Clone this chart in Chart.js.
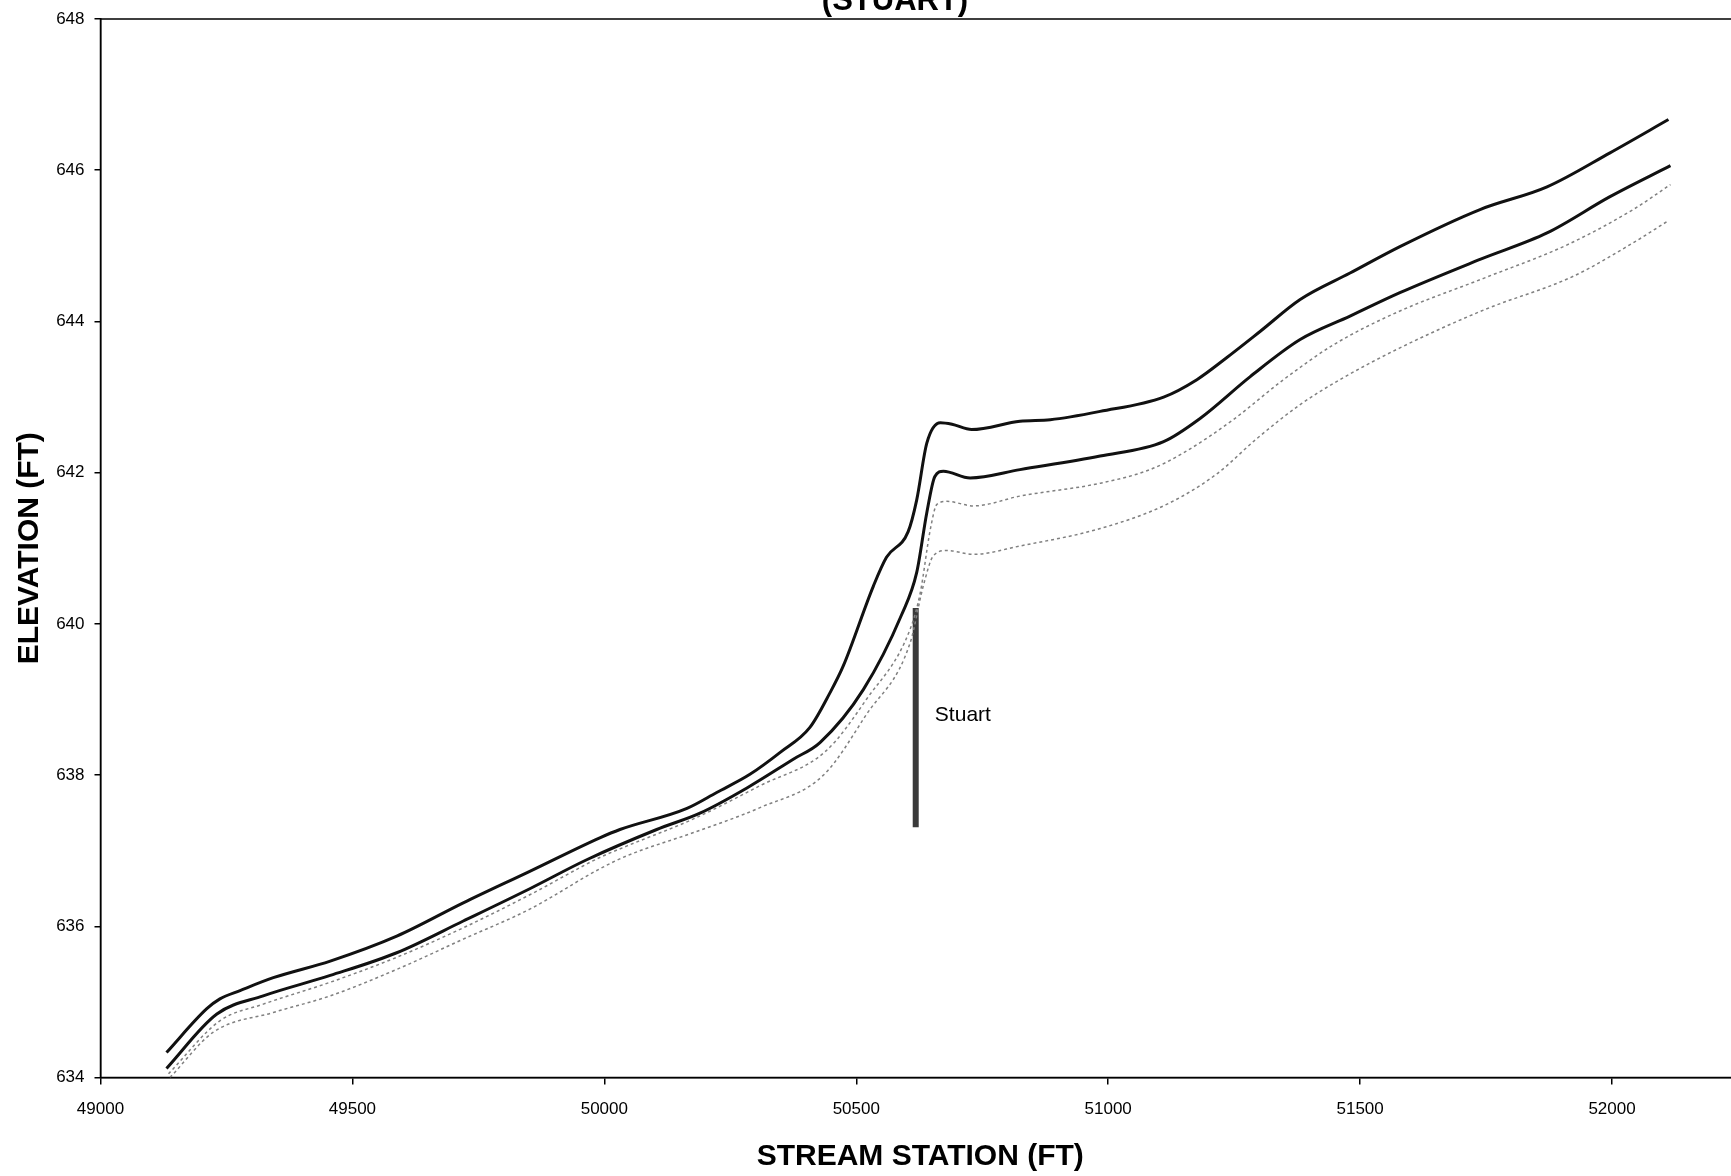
<!DOCTYPE html>
<html>
<head>
<meta charset="utf-8">
<script src="https://cdn.jsdelivr.net/npm/chart.js@4/dist/chart.umd.min.js"></script>
<style>
  html, body { margin: 0; padding: 0; background: #fff; overflow: hidden; }
  #wrap { position: relative; width: 1731px; height: 1176px; overflow: hidden; }
  #profile { position: absolute; left: 0; top: -14px; }
</style>
</head>
<body>
<div id="wrap"><canvas id="profile" width="1740" height="1190"></canvas></div>
<script>
// water surface profiles, stream station (ft) vs elevation (ft)
const station1 = [49131, 49211, 49237, 49277, 49343, 49456, 49588, 49720, 49853, 49991, 50031, 50164, 50223, 50289, 50349, 50408, 50448, 50474, 50534, 50560, 50603, 50620, 50640, 50667, 50690, 50729, 50825, 50885, 50984, 51110, 51176, 51235, 51302, 51381, 51480, 51579, 51738, 51871, 51996, 52112];
const elev1 = [634.33, 634.91, 635.04, 635.15, 635.32, 635.54, 635.87, 636.31, 636.73, 637.17, 637.28, 637.56, 637.77, 638.01, 638.30, 638.63, 639.09, 639.44, 640.50, 640.88, 641.22, 641.64, 642.39, 642.66, 642.64, 642.57, 642.68, 642.70, 642.81, 643.00, 643.23, 643.52, 643.87, 644.29, 644.64, 644.99, 645.48, 645.78, 646.23, 646.67];

const station2 = [49131, 49231, 49323, 49456, 49588, 49720, 49853, 49965, 50104, 50191, 50283, 50375, 50428, 50514, 50590, 50620, 50640, 50656, 50673, 50726, 50825, 50984, 51110, 51183, 51282, 51381, 51480, 51579, 51738, 51871, 51996, 52116];
const elev2 = [634.12, 634.84, 635.08, 635.35, 635.65, 636.07, 636.50, 636.88, 637.28, 637.50, 637.83, 638.21, 638.43, 639.13, 640.12, 640.68, 641.47, 641.95, 642.02, 641.93, 642.04, 642.22, 642.41, 642.72, 643.27, 643.76, 644.07, 644.38, 644.82, 645.17, 645.65, 646.06];

const station3 = [49135, 49237, 49323, 49456, 49588, 49720, 49853, 49991, 50044, 50177, 50309, 50440, 50520, 50607, 50627, 50647, 50660, 50680, 50733, 50825, 50984, 51083, 51149, 51248, 51348, 51447, 51573, 51745, 51910, 52042, 52116];
const elev3 = [634.05, 634.75, 634.97, 635.26, 635.59, 635.98, 636.42, 636.91, 637.06, 637.42, 637.86, 638.32, 639.00, 639.93, 640.41, 641.25, 641.58, 641.62, 641.56, 641.69, 641.86, 642.04, 642.26, 642.70, 643.23, 643.69, 644.12, 644.57, 645.01, 645.48, 645.81];

const station4 = [49138, 49224, 49343, 49456, 49588, 49720, 49853, 49991, 50044, 50177, 50309, 50435, 50520, 50607, 50633, 50653, 50680, 50733, 50825, 50984, 51116, 51215, 51295, 51381, 51460, 51579, 51745, 51924, 52042, 52109];
const elev4 = [634.00, 634.60, 634.86, 635.08, 635.43, 635.83, 636.23, 636.76, 636.93, 637.24, 637.57, 638.00, 638.80, 639.75, 640.50, 640.90, 640.97, 640.92, 641.03, 641.26, 641.58, 641.98, 642.45, 642.90, 643.23, 643.65, 644.15, 644.60, 645.04, 645.32];

// bridge marker
const bridgeName = 'Stuart';
const bridgeStation = [50618, 50618];
const bridgeElev = [637.31, 640.21];
const bridgeLabelAt = [50656, 638.79];

const xTicks = [49000, 49500, 50000, 50500, 51000, 51500, 52000];
const yTicks = [634, 636, 638, 640, 642, 644, 646, 648];
const xMax = 52254;

function toPoints(xs, ys) {
    return xs.map((x, i) => ({ x: x, y: ys[i] }));
}

function profile(xs, ys, color, width, dash) {
    return {
        data: toPoints(xs, ys),
        borderColor: color,
        borderWidth: width,
        borderDash: dash,
        pointRadius: 0,
        cubicInterpolationMode: 'monotone',
        fill: false
    };
}

// plot frame + bridge label
const framePlugin = {
    id: 'frame',
    beforeDatasetsDraw(chart) {
        const a = chart.chartArea;
        const ctx = chart.ctx;
        ctx.save();
        ctx.strokeStyle = '#000';
        ctx.lineWidth = 1.5;
        ctx.strokeRect(a.left, a.top, a.right - a.left, a.bottom - a.top);
        ctx.restore();
    },
    afterDatasetsDraw(chart) {
        const ctx = chart.ctx;
        ctx.save();
        ctx.font = '21px "Liberation Sans", Arial, sans-serif';
        ctx.fillStyle = '#000';
        ctx.textBaseline = 'middle';
        ctx.fillText(bridgeName, chart.scales.x.getPixelForValue(bridgeLabelAt[0]), chart.scales.y.getPixelForValue(bridgeLabelAt[1]));
        ctx.restore();
    }
};

const axisFont = { family: '"Liberation Sans", Arial, sans-serif', size: 17 };
const titleFont = { family: '"Liberation Sans", Arial, sans-serif', size: 30, weight: 'bold' };

new Chart(document.getElementById('profile'), {
    type: 'line',
    data: {
        datasets: [
            profile(station1, elev1, '#111', 3, []),
            profile(station2, elev2, '#111', 3, []),
            profile(station3, elev3, '#808080', 1.5, [3, 3]),
            profile(station4, elev4, '#808080', 1.5, [3, 3]),
            { data: toPoints(bridgeStation, bridgeElev), borderColor: '#3a3a3a', borderWidth: 6, pointRadius: 0, fill: false }
        ]
    },
    options: {
        responsive: false,
        animation: false,
        layout: { padding: { left: 50, right: 0, top: 0, bottom: 0 } },
        plugins: {
            legend: { display: false },
            tooltip: { enabled: false },
            title: {
                display: true,
                text: '(STUART)',
                color: '#000',
                font: { family: '"Liberation Sans", Arial, sans-serif', size: 31, weight: 'bold', lineHeight: 1 },
                padding: { top: 0, bottom: 2 }
            }
        },
        scales: {
            x: {
                type: 'linear',
                min: 49000,
                max: xMax,
                afterBuildTicks: axis => { axis.ticks = xTicks.map(v => ({ value: v })); },
                afterFit: scale => { scale.height = 98.5; },
                border: { display: true, color: '#000', width: 1.5 },
                grid: { drawOnChartArea: false, color: '#000', tickLength: 7, lineWidth: 1.5 },
                ticks: { color: '#000', font: axisFont, padding: 15, maxRotation: 0, callback: v => String(v) },
                title: { display: true, text: 'STREAM STATION (FT)', color: '#000', font: titleFont, padding: { top: 0, bottom: 1 } }
            },
            y: {
                type: 'linear',
                min: 634,
                max: 648,
                afterBuildTicks: axis => { axis.ticks = yTicks.map(v => ({ value: v })); },
                afterFit: scale => { scale.width = 50.5; },
                border: { display: true, color: '#000', width: 1.5 },
                grid: { drawOnChartArea: false, color: '#000', tickLength: 6, lineWidth: 1.5 },
                ticks: { color: '#000', font: axisFont, padding: 10, callback: v => String(v) },
                title: { display: true, text: 'ELEVATION (FT)', color: '#000', font: titleFont, padding: { top: -38, bottom: 0 } }
            }
        }
    },
    plugins: [framePlugin]
});
</script>
</body>
</html>
